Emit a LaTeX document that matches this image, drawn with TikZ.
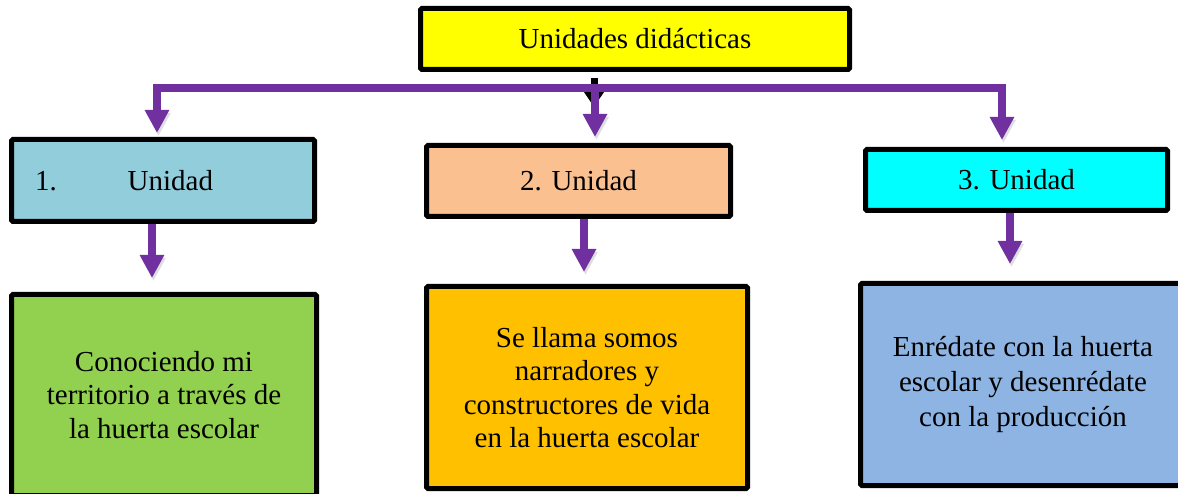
\documentclass[tikz,border=0pt]{standalone}
\usepackage{fontspec}
\setmainfont{Liberation Serif}
\usetikzlibrary{arrows.meta,shadows}
\definecolor{purp}{HTML}{7030A0}
\definecolor{cyel}{HTML}{FFFF00}
\definecolor{cbone}{HTML}{92CDDC}
\definecolor{cbtwo}{HTML}{FAC090}
\definecolor{cbthree}{HTML}{00FFFF}
\definecolor{cgreen}{HTML}{92D050}
\definecolor{corange}{HTML}{FFC000}
\definecolor{cblue}{HTML}{8EB4E3}
\begin{document}
\begin{tikzpicture}[x=1pt,y=-1pt,
  >={Triangle[width=23pt,length=23pt]},
  box/.style={draw=black, line width=5pt, rounded corners=1.5pt, inner sep=4pt,
    align=center, font=\fontsize{29pt}{33.5pt}\selectfont,
    drop shadow={shadow xshift=2pt, shadow yshift=-2pt, opacity=0.2}},
  conn/.style={draw=purp, line width=7.5pt, line join=miter,
    preaction={draw=black, opacity=0.13, transform canvas={shift={(1.5pt,-3pt)}}}},
  stubline/.style={draw=black, line width=7pt, shorten <=6pt,
    -{Triangle[width=19pt,length=15pt]}}]
\clip (0,0) rectangle (1178,494);
\fill[white] (0,0) rectangle (1178,494);

% nodes
\node[box, fill=cyel, minimum width=429pt, minimum height=61pt] (top) at (635,39) {Unidades didácticas};
\node[box, fill=cbone, minimum width=303pt, minimum height=82pt, text width=256pt, inner xsep=23.5pt, align=left] (u1) at (163,180.5) {1.\hspace{71pt}Unidad};
\node[box, fill=cbtwo, minimum width=304pt, minimum height=71pt] (u2) at (578.5,181) {2. Unidad};
\node[box, fill=cbthree, minimum width=302pt, minimum height=61pt] (u3) at (1016.5,180) {3. Unidad};
\node[box, fill=cgreen, minimum width=305pt, minimum height=201pt] (d1) at (164,395) {Conociendo mi\\territorio a través de\\la huerta escolar};
\node[box, fill=corange, minimum width=321pt, minimum height=202pt] (d2) at (587,387.5) {Se llama somos\\narradores y\\constructores de vida\\en la huerta escolar};
\node[box, fill=cblue, minimum width=325pt, minimum height=202pt, font=\fontsize{29pt}{35pt}\selectfont] (d3) at (1023,384.5) {Enrédate con la huerta\\escolar y desenrédate\\con la producción};

% coordinates
\coordinate (bl) at (157,88);
\coordinate (br) at (1002,88);
\coordinate (bm) at (595,88);
\coordinate (a1) at (157,133);
\coordinate (a2) at (595,137);
\coordinate (a3) at (1002,140);
\coordinate (s1) at (152,278);
\coordinate (s2) at (584,272);
\coordinate (s3) at (1010,264);
\coordinate (stub) at (594,107);

% connectors
\draw[stubline] (top.south -| stub) -- (stub);
\draw[conn,<->] (a1) -- (bl) -- (br) -- (a3);
\draw[conn,->] (bm) -- (a2);
\draw[conn,->] (u1.south -| s1) -- (s1);
\draw[conn,->] (u2.south -| s2) -- (s2);
\draw[conn,->] (u3.south -| s3) -- (s3);
\end{tikzpicture}
\end{document}
